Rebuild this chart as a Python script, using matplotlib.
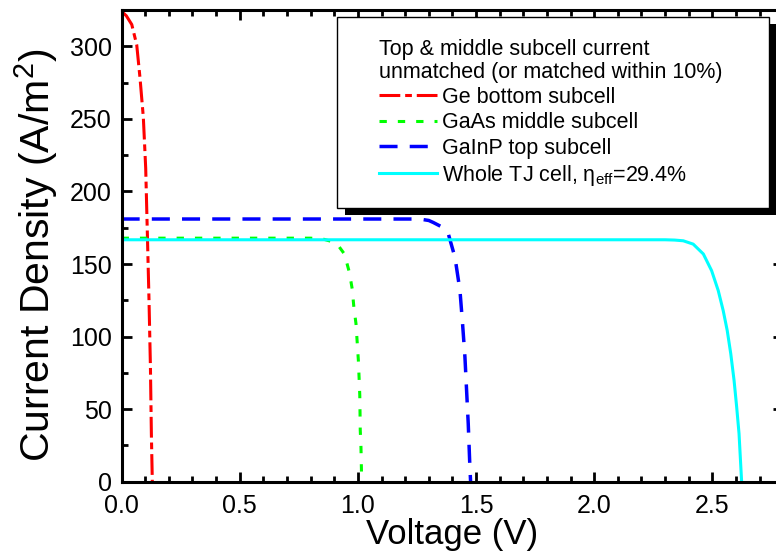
import matplotlib
matplotlib.use('Agg')
import matplotlib.pyplot as plt
from matplotlib.patches import Rectangle
from matplotlib.ticker import MultipleLocator, FormatStrFormatter

plt.rcParams['font.family'] = ['Liberation Sans', 'DejaVu Sans']
plt.rcParams['mathtext.fontset'] = 'custom'
plt.rcParams['mathtext.rm'] = 'Liberation Sans'

# I-V curves (V in volts, J in A/m^2)
v_ge = [0.0, 0.020, 0.043, 0.064, 0.078, 0.092, 0.102, 0.109, 0.116, 0.122, 0.126, 0.130]
j_ge = [324, 321, 315, 301, 278, 251, 216, 171, 125, 79, 33, 0]

v_gaas = [0.0, 0.80, 0.85, 0.889, 0.92, 0.943, 0.964, 0.976, 0.983, 0.992, 0.997,
          1.002, 1.005, 1.008, 1.009, 1.010, 1.013, 1.016]
j_gaas = [167.8, 167.8, 167.3, 165.5, 162.0, 156.9, 144.2, 132.8, 120.2, 108.8, 96.2,
          83.6, 72.1, 59.5, 48.1, 35.5, 24.0, 0]

v_gainp = [0.0, 1.26, 1.30, 1.319, 1.35, 1.383, 1.411, 1.432, 1.443, 1.453, 1.460,
           1.467, 1.474, 1.477]
j_gainp = [181, 181, 180, 178.6, 176, 170.6, 154.5, 131.7, 108.8, 85.9, 63, 40, 10, 0]

v_tj = [0.0, 2.30, 2.34, 2.377, 2.419, 2.462, 2.497, 2.525, 2.546, 2.563, 2.578,
        2.592, 2.603, 2.613, 2.624]
j_tj = [166.7, 166.7, 166.5, 166.0, 163.7, 156.9, 145.4, 131.7, 117.9, 104.2, 88.2,
        69.8, 51.5, 33.2, 0]

labels = ['Ge bottom subcell', 'GaAs middle subcell', 'GaInP top subcell',
          r'Whole TJ cell, η$_{\mathregular{eff}}$=29.4%']
legend_title = 'Top & middle subcell current\nunmatched (or matched within 10%)'

fig = plt.figure(figsize=(7.76, 5.55), dpi=100)
ax = fig.add_axes([0.1567, 0.132, 0.8526, 0.850])

ax.plot(v_ge, j_ge, color='#ff0000', lw=2.2, linestyle=(0, (6.8, 1.6, 2.2, 1.6)), label=labels[0])
ax.plot(v_gaas, j_gaas, color='#00ff00', lw=2.2, linestyle=(0, (2.4, 3.6)), label=labels[1])
ax.plot(v_gainp, j_gainp, color='#0000ff', lw=2.5, linestyle=(0, (5.2, 3.5)), label=labels[2])
ax.plot(v_tj, j_tj, color='#00ffff', lw=2.2, label=labels[3])

ax.set_xlim(0, 2.8)
ax.set_ylim(0, 325)
ax.xaxis.set_major_locator(MultipleLocator(0.5))
ax.xaxis.set_minor_locator(MultipleLocator(0.1))
ax.yaxis.set_major_locator(MultipleLocator(50))
ax.yaxis.set_minor_locator(MultipleLocator(25))
ax.xaxis.set_major_formatter(FormatStrFormatter('%.1f'))

for s in ax.spines.values():
    s.set_linewidth(2.2)
ax.tick_params(which='both', direction='in', top=True, right=True, width=2.0, labelsize=18)
ax.tick_params(which='major', length=7)
ax.tick_params(which='minor', length=4)
ax.tick_params(axis='x', pad=9)
ax.tick_params(axis='y', pad=7)

ax.set_xlabel('Voltage (V)', fontsize=25, labelpad=0)
ax.set_ylabel(r'Current Density (A/m$^{\mathregular{2}}$)', fontsize=29.5)
ax.yaxis.set_label_coords(-0.093, 0.48)

# legend box with a hard black shadow
box = (0.3256, 0.58, 0.6529, 0.405)
ax.add_patch(Rectangle((box[0] + 0.0121, box[1] - 0.0148), box[2], box[3],
                       transform=ax.transAxes, facecolor='black', edgecolor='none',
                       zorder=6, clip_on=False))
ax.add_patch(Rectangle((box[0], box[1]), box[2], box[3], transform=ax.transAxes,
                       facecolor='white', edgecolor='black', lw=1.0, zorder=7, clip_on=False))

leg = ax.legend(loc='upper left', bbox_to_anchor=(0.389, 0.9385), frameon=False,
                fontsize=15.5, title=legend_title, title_fontsize=15.5, alignment='left',
                borderpad=0, borderaxespad=0, handlelength=2.7, handletextpad=0.22,
                labelspacing=0.2)
leg.get_title().set_linespacing(1.1)
leg.set_zorder(8)

fig.savefig('out.png', dpi=100)
